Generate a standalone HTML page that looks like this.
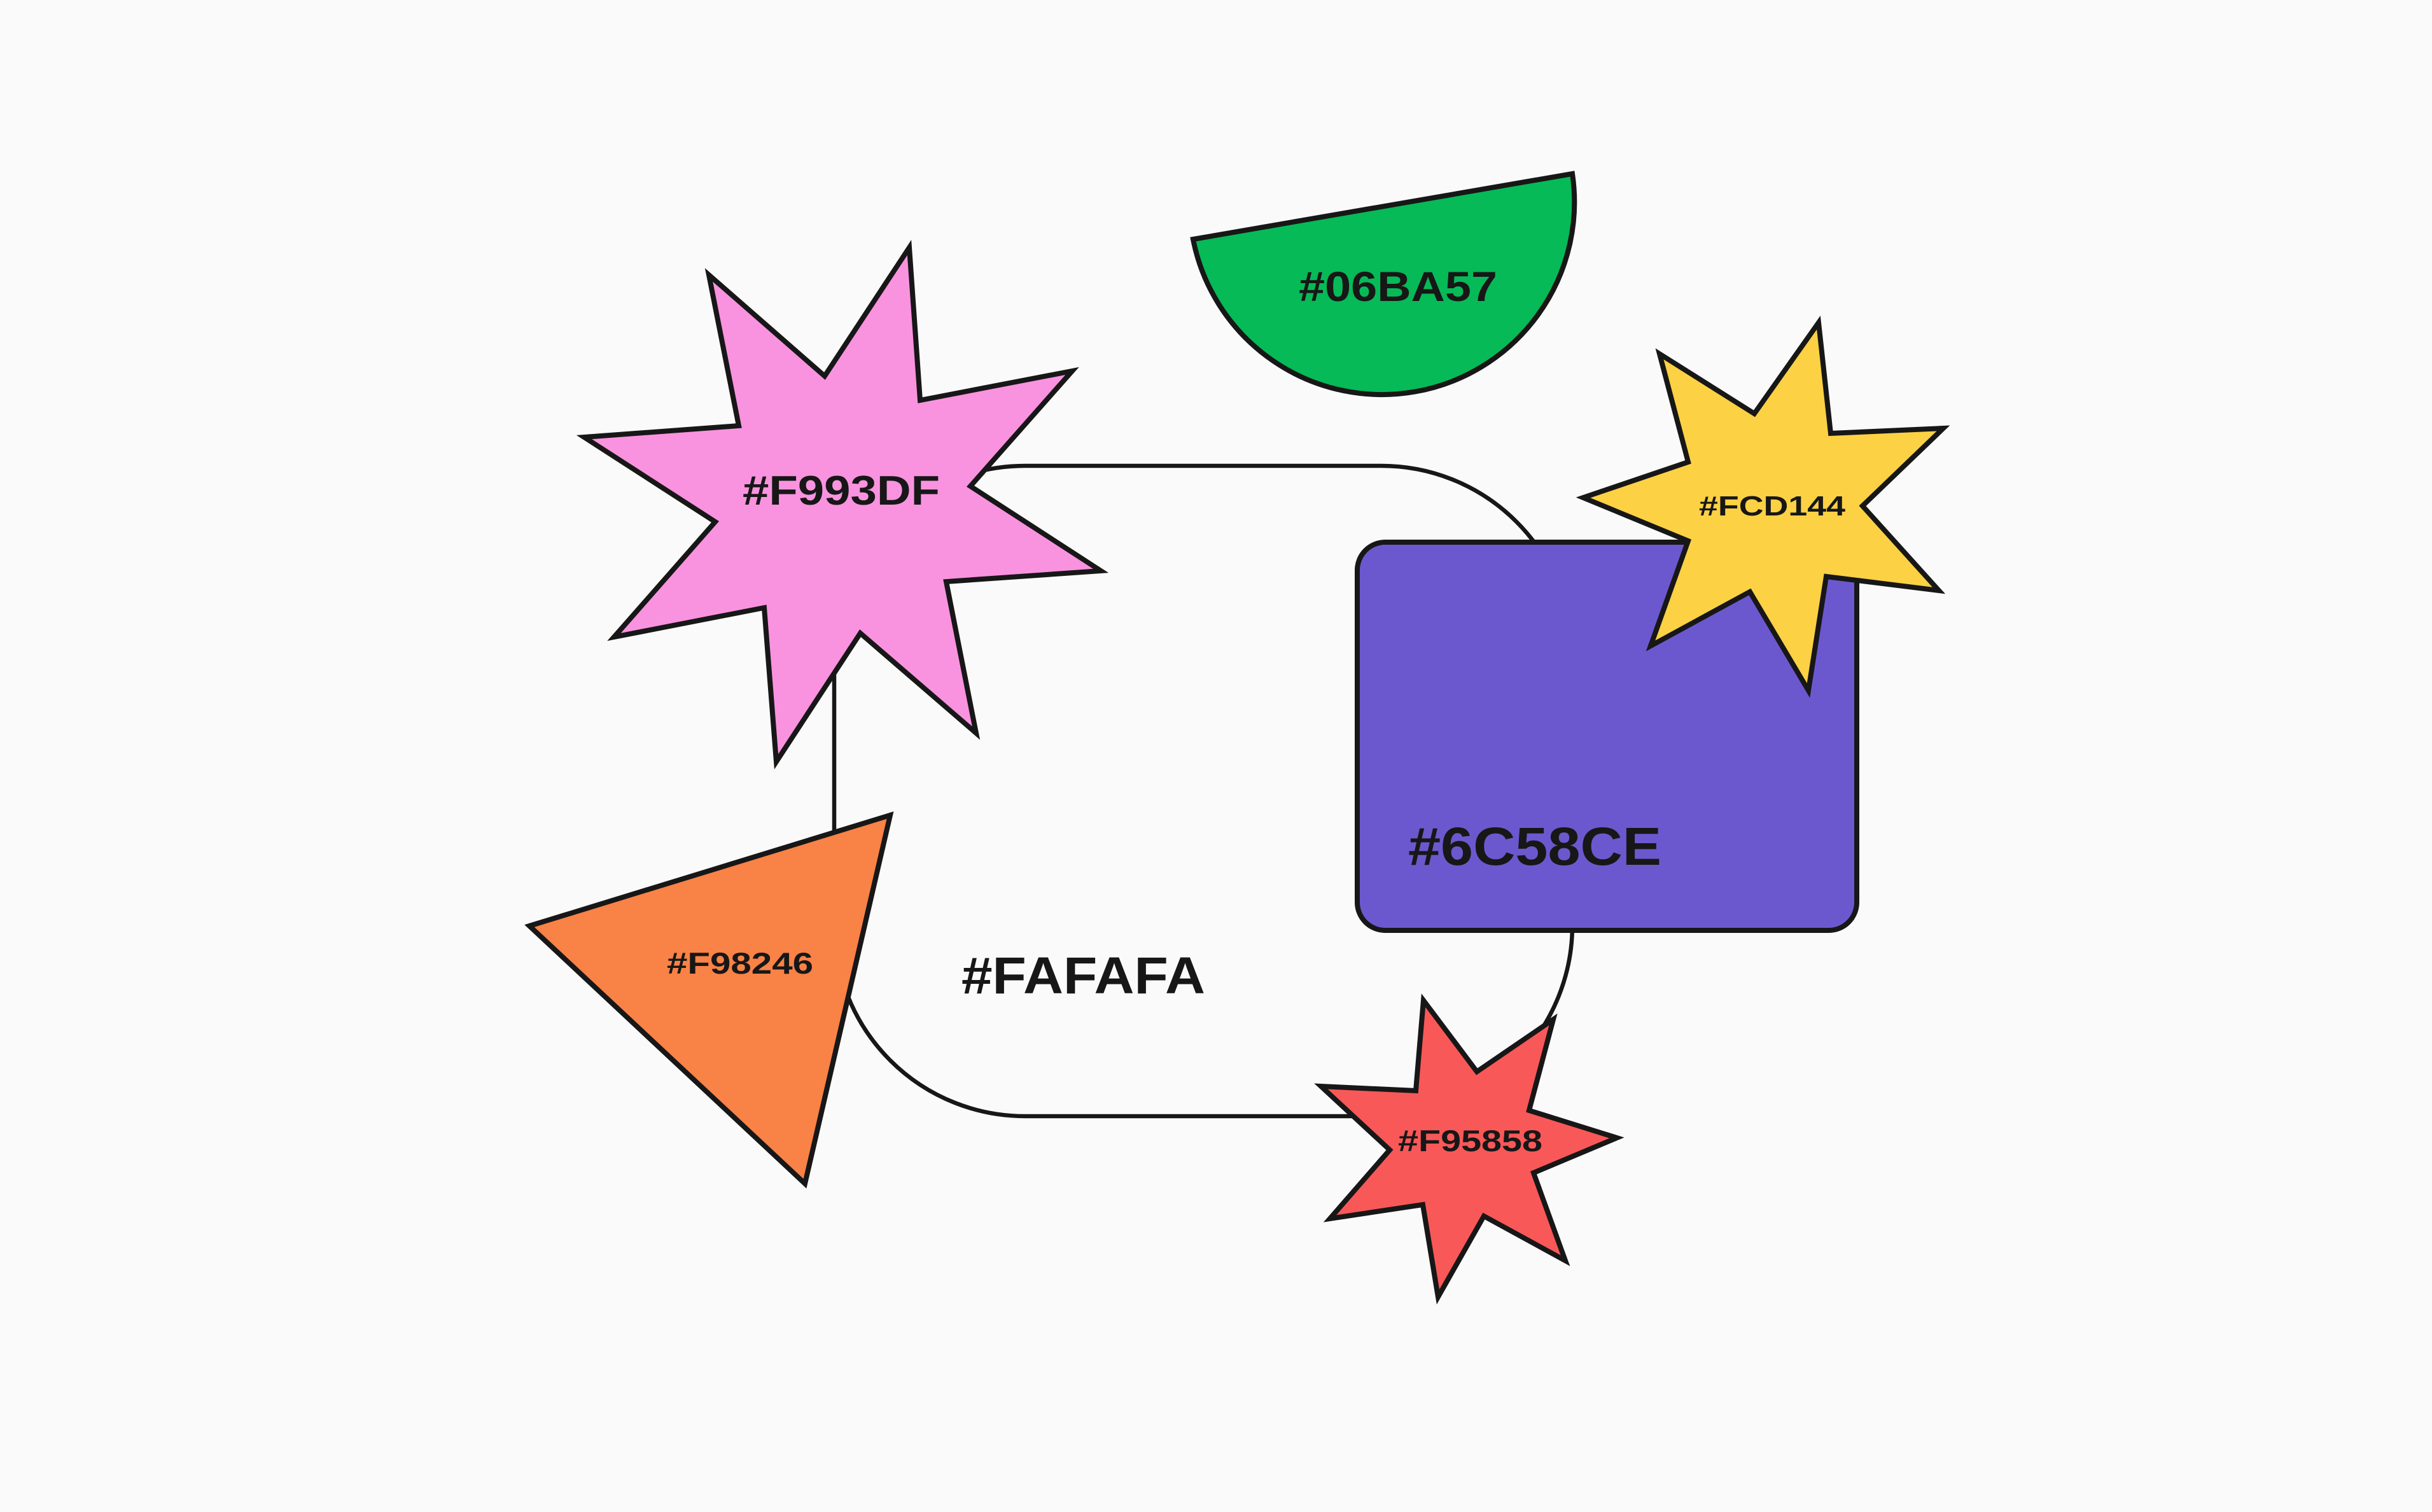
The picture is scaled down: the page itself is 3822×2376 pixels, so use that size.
<!DOCTYPE html>
<html>
<head>
<meta charset="utf-8">
<style>
  html, body { margin: 0; padding: 0; background: #FAFAFA; }
  body { width: 3822px; height: 2376px; overflow: hidden; }
  svg { display: block; }
  text { font-family: "Liberation Sans", "DejaVu Sans", sans-serif; font-weight: bold; fill: #171717; }
</style>
</head>
<body>
<svg width="3822" height="2376" viewBox="0 0 3822 2376" xmlns="http://www.w3.org/2000/svg">
  <rect x="0" y="0" width="3822" height="2376" fill="#FAFAFA"/>

  <!-- loop connector -->
  <rect x="1311" y="732" width="1160" height="1022" rx="300" ry="300" fill="none" stroke="#171717" stroke-width="6.5"/>

  <!-- green half circle -->
  <path d="M 1875 376 L 2471 273 A 302.5 302.5 0 0 1 1875 376 Z" fill="#06BA57" stroke="#171717" stroke-width="8" stroke-linejoin="miter"/>
  <text x="2041" y="473" font-size="66" textLength="312" lengthAdjust="spacingAndGlyphs">#06BA57</text>

  <!-- pink star -->
  <polygon points="1429,389 1446,629 1685,583 1525,764 1730,897 1487,914 1534,1152 1352,995 1220,1197 1201,955 965,1001 1124,820 918,687 1161,669 1114,432 1296,591" fill="#F993DF" stroke="#171717" stroke-width="8" stroke-linejoin="miter" stroke-miterlimit="20"/>
  <text x="1167" y="793" font-size="65" textLength="310" lengthAdjust="spacingAndGlyphs">#F993DF</text>

  <!-- purple square -->
  <rect x="2133" y="852" width="785" height="610" rx="44" ry="44" fill="#6C58CE" stroke="#171717" stroke-width="8"/>
  <text x="2213" y="1359" font-size="84" textLength="398" lengthAdjust="spacingAndGlyphs">#6C58CE</text>

  <!-- yellow star -->
  <polygon points="2858,507 2877,681 3054,673 2927,795 3047,928 2870,906 2842,1085 2750,930 2594,1015 2653,850 2488,782 2653,726 2608,556 2757,650" fill="#FCD144" stroke="#171717" stroke-width="8" stroke-linejoin="miter" stroke-miterlimit="20"/>
  <text x="2670" y="810" font-size="44" textLength="230" lengthAdjust="spacingAndGlyphs">#FCD144</text>

  <!-- orange triangle -->
  <polygon points="832,1455 1399,1281 1265,1860" fill="#F98246" stroke="#171717" stroke-width="8" stroke-linejoin="miter" stroke-miterlimit="20"/>
  <text x="1048" y="1530" font-size="47" textLength="230" lengthAdjust="spacingAndGlyphs">#F98246</text>

  <!-- center label -->
  <text x="1511" y="1561" font-size="82" textLength="383" lengthAdjust="spacingAndGlyphs">#FAFAFA</text>

  <!-- red star -->
  <polygon points="2237,1572 2321,1684 2441,1602 2403,1745 2541,1788 2410,1843 2460,1981 2332,1911 2260,2038 2236,1893 2090,1915 2184,1807 2076,1707 2225,1714" fill="#F95858" stroke="#171717" stroke-width="8" stroke-linejoin="miter" stroke-miterlimit="20"/>
  <text x="2197" y="1809" font-size="47" textLength="227" lengthAdjust="spacingAndGlyphs">#F95858</text>
</svg>
</body>
</html>
